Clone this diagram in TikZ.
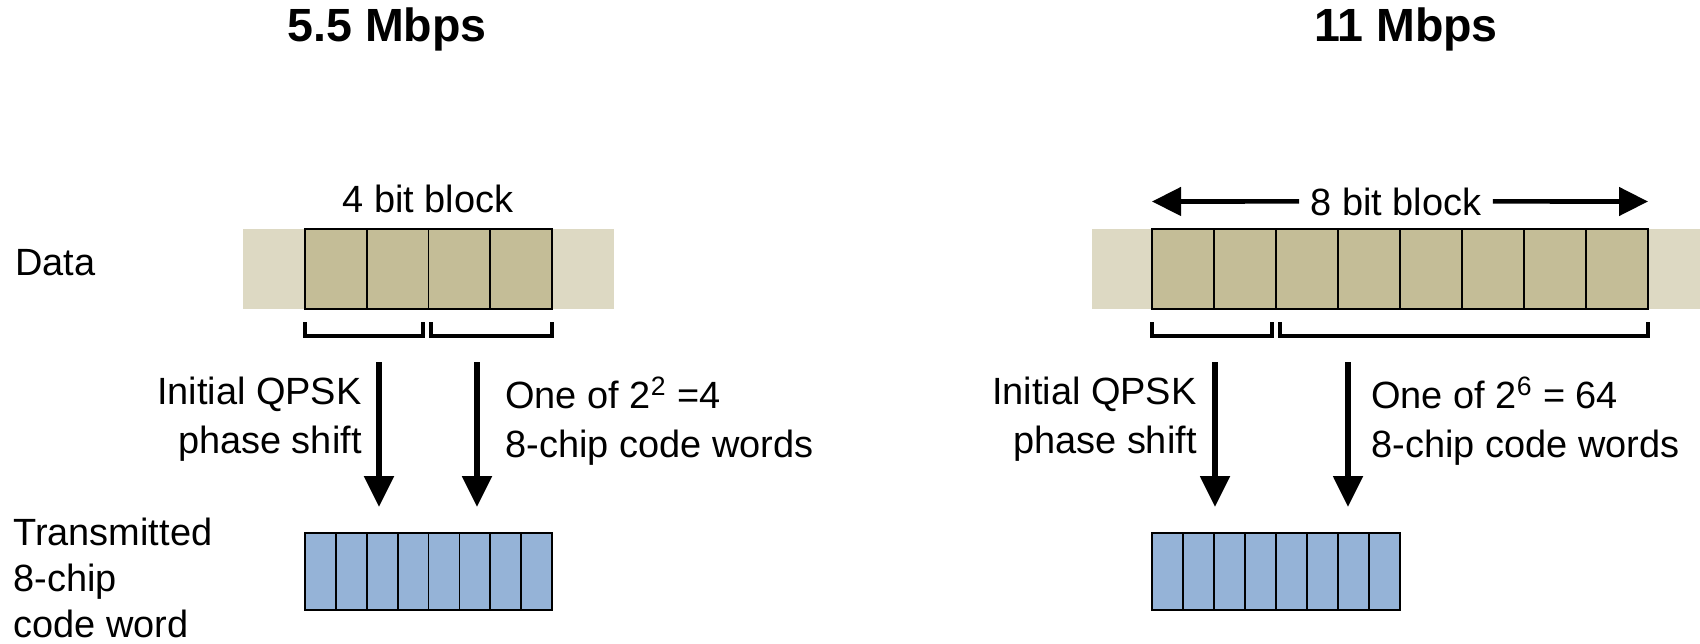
\documentclass[tikz,border=0pt]{standalone}
\usepackage{fontspec}
\setmainfont{Liberation Sans}
\usetikzlibrary{positioning,arrows.meta}
\definecolor{striptan}{HTML}{DDD9C3}
\definecolor{celltan}{HTML}{C4BD97}
\definecolor{chipblue}{HTML}{95B3D7}

\begin{document}
\begin{tikzpicture}[x=0.02cm, y=-0.02cm,
  every node/.style={font=\fontsize{21.6}{27.9}\selectfont, inner sep=0pt},
  rate/.style={font=\fontsize{26.5}{30}\selectfont\bfseries},
  strip/.style={fill=striptan, minimum height=1.6cm},
  bitcell/.style={draw, line width=1pt, fill=celltan},
  chipcell/.style={draw, line width=1pt, fill=chipblue},
  bracket/.style={line width=2pt},
  feed/.style={line width=3pt, -{Triangle[length=0.62cm, width=0.58cm]}},
  span/.style={line width=2.6pt, -{Triangle[length=0.58cm, width=0.56cm]}}]
  \useasboundingbox (0,0) rectangle (1700,643);

  % titles and row labels
  \node[rate, anchor=base] (rate55) at (387,41) {5.5 Mbps};
  \node[rate, anchor=base] (rate11) at (1406,41) {11 Mbps};
  \node[anchor=base west] (datalbl) at (15,275.5) {Data};
  \node[anchor=north west, align=left, font=\fontsize{21.6}{26.2}\selectfont] (txlbl) at (13,518) {Transmitted\\8-chip\\code word};

  % 5.5 Mbps
  \node[strip, minimum width=7.42cm] (strip55) at (428.5,269) {};
  \foreach \i in {0,...,3}
    \draw[bitcell] ({305+61.75*\i},229) rectangle ++(61.75,80);
  \node[anchor=base] (blk55) at (428,212.5) {4 bit block};
  \draw[bracket] (305,322) -- (305,336) -- (423,336) -- (423,322);
  \draw[bracket] (431,322) -- (431,336) -- (552,336) -- (552,322);
  \foreach \i in {0,...,7}
    \draw[chipcell] ({305+30.875*\i},533) rectangle ++(30.875,77);
  \coordinate (srcA55) at (379,362);
  \coordinate (tipA55) at (379,507);
  \coordinate (srcB55) at (477,362);
  \coordinate (tipB55) at (477,507);
  \draw[feed] (srcA55) -- (tipA55);
  \draw[feed] (srcB55) -- (tipB55);
  \node[anchor=north east, align=right] (qpsk55) at (362,376.5) {Initial QPSK\\phase shift};
  \node[anchor=north west, align=left] (code55) at (505,376.5) {One of 2\textsuperscript{2} =4\\8-chip code words};

  % 11 Mbps
  \node[strip, minimum width=12.16cm] (strip11) at (1396,269) {};
  \foreach \i in {0,...,7}
    \draw[bitcell] ({1152+62*\i},229) rectangle ++(62,80);
  \node[anchor=base, inner xsep=0.22cm] (blk11) at (1396,215) {8 bit block};
  \coordinate (endL11) at (1152,201.5);
  \coordinate (endR11) at (1648,201.5);
  \draw[span] (blk11.west) -- (endL11);
  \draw[span] (blk11.east) -- (endR11);
  \draw[bracket] (1152,322) -- (1152,336) -- (1272,336) -- (1272,322);
  \draw[bracket] (1280,322) -- (1280,336) -- (1648,336) -- (1648,322);
  \foreach \i in {0,...,7}
    \draw[chipcell] ({1152+31*\i},533) rectangle ++(31,77);
  \coordinate (srcA11) at (1215,362);
  \coordinate (tipA11) at (1215,507);
  \coordinate (srcB11) at (1348,362);
  \coordinate (tipB11) at (1348,507);
  \draw[feed] (srcA11) -- (tipA11);
  \draw[feed] (srcB11) -- (tipB11);
  \node[anchor=north east, align=right] (qpsk11) at (1197,376.5) {Initial QPSK\\phase shift};
  \node[anchor=north west, align=left] (code11) at (1371,376.5) {One of 2\textsuperscript{6} = 64\\8-chip code words};
\end{tikzpicture}
\end{document}
